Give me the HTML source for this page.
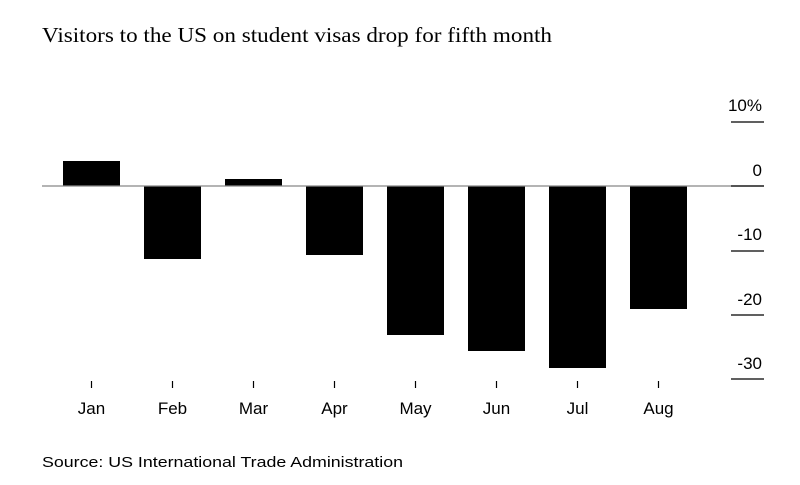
<!DOCTYPE html>
<html><head><style>
body{margin:0;background:#fff;width:800px;height:480px;overflow:hidden}
svg text{font-family:"Liberation Sans",sans-serif}
</style></head><body>
<svg width="800" height="480" xmlns="http://www.w3.org/2000/svg">
<text x="42" y="42" style="font-family:'Liberation Serif',serif" font-size="21" textLength="510" lengthAdjust="spacingAndGlyphs" fill="#000">Visitors to the US on student visas drop for fifth month</text>
<g fill="#000">
<rect x="63" y="161" width="57" height="25"/>
<rect x="144" y="186" width="57" height="73"/>
<rect x="225" y="179" width="57" height="7"/>
<rect x="306" y="186" width="57" height="69"/>
<rect x="387" y="186" width="57" height="149"/>
<rect x="468" y="186" width="57" height="165"/>
<rect x="549" y="186" width="57" height="182"/>
<rect x="630" y="186" width="57" height="123"/>
</g>
<line x1="42" y1="186" x2="764" y2="186" stroke="#888" stroke-width="1.2"/>
<g stroke="#000" stroke-width="1.2">
<line x1="731" y1="122" x2="764" y2="122"/>
<line x1="731" y1="186" x2="764" y2="186"/>
<line x1="731" y1="251" x2="764" y2="251"/>
<line x1="731" y1="315" x2="764" y2="315"/>
<line x1="731" y1="379" x2="764" y2="379"/>
</g>
<g font-size="17" fill="#000" text-anchor="end">
<text x="762" y="111">10%</text>
<text x="762" y="176">0</text>
<text x="762" y="240">-10</text>
<text x="762" y="305">-20</text>
<text x="762" y="369">-30</text>
</g>
<g stroke="#000" stroke-width="1.2">
<line x1="91.5" y1="381" x2="91.5" y2="388"/>
<line x1="172.5" y1="381" x2="172.5" y2="388"/>
<line x1="253.5" y1="381" x2="253.5" y2="388"/>
<line x1="334.5" y1="381" x2="334.5" y2="388"/>
<line x1="415.5" y1="381" x2="415.5" y2="388"/>
<line x1="496.5" y1="381" x2="496.5" y2="388"/>
<line x1="577.5" y1="381" x2="577.5" y2="388"/>
<line x1="658.5" y1="381" x2="658.5" y2="388"/>
</g>
<g font-size="17" fill="#000" text-anchor="middle">
<text x="91.5" y="414">Jan</text>
<text x="172.5" y="414">Feb</text>
<text x="253.5" y="414">Mar</text>
<text x="334.5" y="414">Apr</text>
<text x="415.5" y="414">May</text>
<text x="496.5" y="414">Jun</text>
<text x="577.5" y="414">Jul</text>
<text x="658.5" y="414">Aug</text>
</g>
<text x="42" y="467" font-size="15" textLength="361" lengthAdjust="spacingAndGlyphs" fill="#000">Source: US International Trade Administration</text>
</svg>
</body></html>
